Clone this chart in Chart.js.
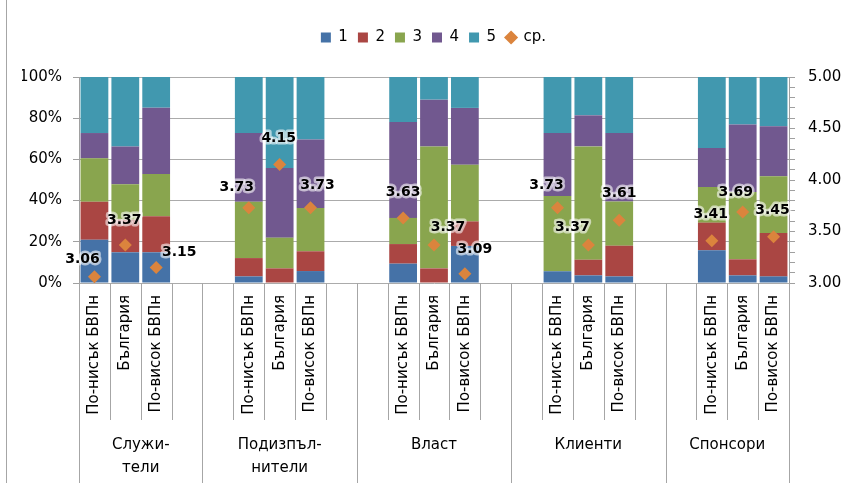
<!DOCTYPE html>
<html>
<head>
<meta charset="utf-8">
<script src="https://cdn.jsdelivr.net/npm/chart.js@4"></script>
<style>
  html, body { margin: 0; padding: 0; background: #fff; }
  #wrap { width: 845px; height: 486px; position: relative; }
</style>
</head>
<body>
<div id="wrap"><canvas id="chart"></canvas></div>
<script>
// группи и подкатегории
const groupNames = [['Служи-', 'тели'], ['Подизпъл-', 'нители'], ['Власт'], ['Клиенти'], ['Спонсори']];
const barNames = ['По-нисък БВПн', 'България', 'По-висок БВПн'];

// дялове (%) по оценка, 5 групи x 3 стълба
const share1 = [21.0, 14.9, 14.9, 3.2, 0, 5.8, 9.4, 0, 18.0, 5.7, 3.7, 3.2, 15.9, 3.7, 3.2];
const share2 = [18.5, 15.8, 17.5, 8.9, 7.1, 9.6, 9.5, 7.1, 11.9, 0, 7.6, 14.9, 13.4, 7.8, 21.1];
const share3 = [21.0, 17.2, 20.5, 27.4, 14.9, 21.0, 12.7, 59.2, 27.5, 36.5, 55.0, 21.5, 17.3, 32.7, 27.5];
const share4 = [12.3, 18.4, 32.2, 33.3, 33.8, 33.2, 46.6, 22.7, 27.6, 30.6, 15.1, 33.2, 18.9, 32.7, 24.3];
const share5 = [27.2, 33.7, 14.9, 27.2, 44.2, 30.4, 21.8, 11.0, 15.0, 27.2, 18.6, 27.2, 34.5, 23.1, 23.9];
const means = [3.06, 3.37, 3.15, 3.73, 4.15, 3.73, 3.63, 3.37, 3.09, 3.73, 3.37, 3.61, 3.41, 3.69, 3.45];

const seriesNames = ['1', '2', '3', '4', '5', 'ср.'];
const colors = ['#4572A7', '#AA4643', '#89A54E', '#71588F', '#4198AF', '#DB843D'];

// дясна ос: етикети през 0.5, малки чертички през 0.1
const rightLabels = [3.00, 3.50, 4.00, 4.50, 5.00];
const rightMinor = 0.1;

// ръчно преместени етикети (както в оригинала)
const labelNudge = [[-12, -17], [-1, -25], [23, -15], [-12, -20], [-1, -26], [7, -22],
  [0, -26], [14, -18], [10, -24], [-11, -22], [-16, -18], [0, -27], [-1, -26], [-7, -20], [-1, -26]];

const SLOTS = 23;
const groupEdges = [0, 4, 9, 14, 19, 23];

function spread(vals, blank) {
    const out = new Array(SLOTS).fill(blank);
    vals.forEach((v, i) => { out[5 * Math.floor(i / 3) + i % 3] = v; });
    return out;
}

const labels = spread(Array.from({length: 15}, (_, i) => barNames[i % 3]), '');
const shares = [share1, share2, share3, share4, share5];

const font = { family: 'DejaVu Sans', size: 15 };

const groupAxis = {
    id: 'groupAxis',
    afterDraw(chart) {
        const { ctx, chartArea } = chart;
        const x = chart.scales.x;
        const step = x.getPixelForValue(1) - x.getPixelForValue(0);
        const edge = i => x.getPixelForValue(i) - step / 2;
        ctx.save();
        ctx.strokeStyle = '#a6a6a6';
        ctx.lineWidth = 1;
        for (let i = 0; i <= SLOTS; i++) {
            const px = Math.round(edge(i)) + 0.5;
            const long = groupEdges.includes(i);
            ctx.beginPath();
            ctx.moveTo(px, chartArea.bottom);
            ctx.lineTo(px, long ? 483 : 420);
            ctx.stroke();
        }
        ctx.beginPath();
        ctx.moveTo(6.5, 0);
        ctx.lineTo(6.5, 483);
        ctx.stroke();

        ctx.fillStyle = '#000';
        ctx.font = '15px "DejaVu Sans"';
        ctx.textAlign = 'center';
        ctx.textBaseline = 'middle';
        groupNames.forEach((lines, g) => {
            const cx = (edge(groupEdges[g]) + edge(groupEdges[g + 1])) / 2;
            lines.forEach((t, j) => ctx.fillText(t, cx, 445 + j * 23));
        });
        ctx.restore();
    }
};

const meanLabels = {
    id: 'meanLabels',
    afterDatasetsDraw(chart) {
        const { ctx } = chart;
        const idx = chart.data.datasets.length - 1;
        const meta = chart.getDatasetMeta(idx);
        const data = chart.data.datasets[idx].data;
        ctx.save();
        ctx.font = 'bold 14px "DejaVu Sans"';
        ctx.textAlign = 'center';
        ctx.textBaseline = 'middle';
        let n = 0;
        meta.data.forEach((pt, i) => {
            if (data[i] == null) return;
            const [dx, dy] = labelNudge[n++];
            const t = data[i].toFixed(2);
            const tx = pt.x + dx, ty = pt.y + dy;
            ctx.lineJoin = 'round';
            ctx.strokeStyle = 'rgba(255,255,255,0.55)';
            ctx.lineWidth = 5;
            ctx.strokeText(t, tx, ty);
            ctx.shadowColor = 'rgba(255,255,255,0.9)';
            ctx.shadowBlur = 3;
            ctx.fillStyle = '#000';
            ctx.fillText(t, tx, ty);
            ctx.shadowBlur = 0;
        });
        ctx.restore();
    }
};

const datasets = shares.map((s, k) => ({
    type: 'bar',
    label: seriesNames[k],
    data: spread(s, null),
    backgroundColor: colors[k],
    borderWidth: 0,
    barPercentage: 0.9,
    categoryPercentage: 1.0,
    yAxisID: 'y',
    order: 1
}));
datasets.push({
    type: 'line',
    label: seriesNames[5],
    data: spread(means, null),
    yAxisID: 'y1',
    showLine: false,
    backgroundColor: colors[5],
    borderColor: colors[5],
    pointStyle: 'rectRot',
    pointRadius: 6.5,
    pointBorderWidth: 0,
    order: 0
});

const isLabelled = v => rightLabels.some(r => Math.abs(r - v) < 1e-6);

new Chart(document.getElementById('chart'), {
    data: { labels: labels, datasets: datasets },
    plugins: [groupAxis, meanLabels],
    options: {
        responsive: true,
        maintainAspectRatio: false,
        animation: false,
        devicePixelRatio: 1,
        layout: { padding: { left: 22, top: 20, right: 0, bottom: 0 } },
        plugins: {
            tooltip: { enabled: false },
            // празно заглавие - само отстъп между легендата и графиката
            title: { display: true, text: '', weight: 500, font: { size: 10 }, padding: { top: 10, bottom: 0 } },
            legend: {
                position: 'top',
                labels: {
                    usePointStyle: true,
                    boxWidth: 10,
                    boxHeight: 10,
                    padding: 10,
                    color: '#000',
                    font: font,
                    sort: (a, b) => a.datasetIndex - b.datasetIndex,
                    generateLabels: chart => Chart.defaults.plugins.legend.labels.generateLabels(chart)
                        .map(l => ({ ...l, pointStyle: l.datasetIndex < 5 ? 'rect' : 'rectRot', lineWidth: 0 }))
                }
            }
        },
        scales: {
            x: {
                stacked: true,
                offset: true,
                grid: { display: false, drawTicks: false },
                border: { display: false },
                ticks: { autoSkip: false, minRotation: 90, maxRotation: 90, padding: 12, color: '#000', font: font },
                afterFit: s => { s.height = 203; }
            },
            y: {
                stacked: true,
                position: 'left',
                min: 0,
                max: 100,
                ticks: {
                    stepSize: 10,
                    padding: 11,
                    color: '#000',
                    font: font,
                    callback: v => v % 20 === 0 ? v + '%' : ''
                },
                grid: {
                    color: c => (c.tick && c.tick.value % 20 === 0) ? '#ababab' : 'rgba(0,0,0,0)',
                    tickColor: '#a0a0a0',
                    tickLength: 6
                },
                border: { display: true, color: '#a0a0a0' },
                afterFit: s => { s.width = 57; }
            },
            y1: {
                position: 'right',
                min: rightLabels[0],
                max: rightLabels[rightLabels.length - 1],
                afterBuildTicks: s => {
                    const n = Math.round((s.max - s.min) / rightMinor);
                    s.ticks = Array.from({ length: n + 1 }, (_, i) => ({ value: s.min + i * rightMinor }));
                },
                ticks: {
                    autoSkip: false,
                    padding: 13,
                    color: '#000',
                    font: font,
                    callback: v => isLabelled(v) ? v.toFixed(2) : ''
                },
                grid: { drawOnChartArea: false, tickColor: '#a0a0a0', tickLength: 6 },
                border: { display: true, color: '#a0a0a0' },
                afterFit: s => { s.width = 56; }
            }
        }
    }
});
</script>
</body>
</html>
